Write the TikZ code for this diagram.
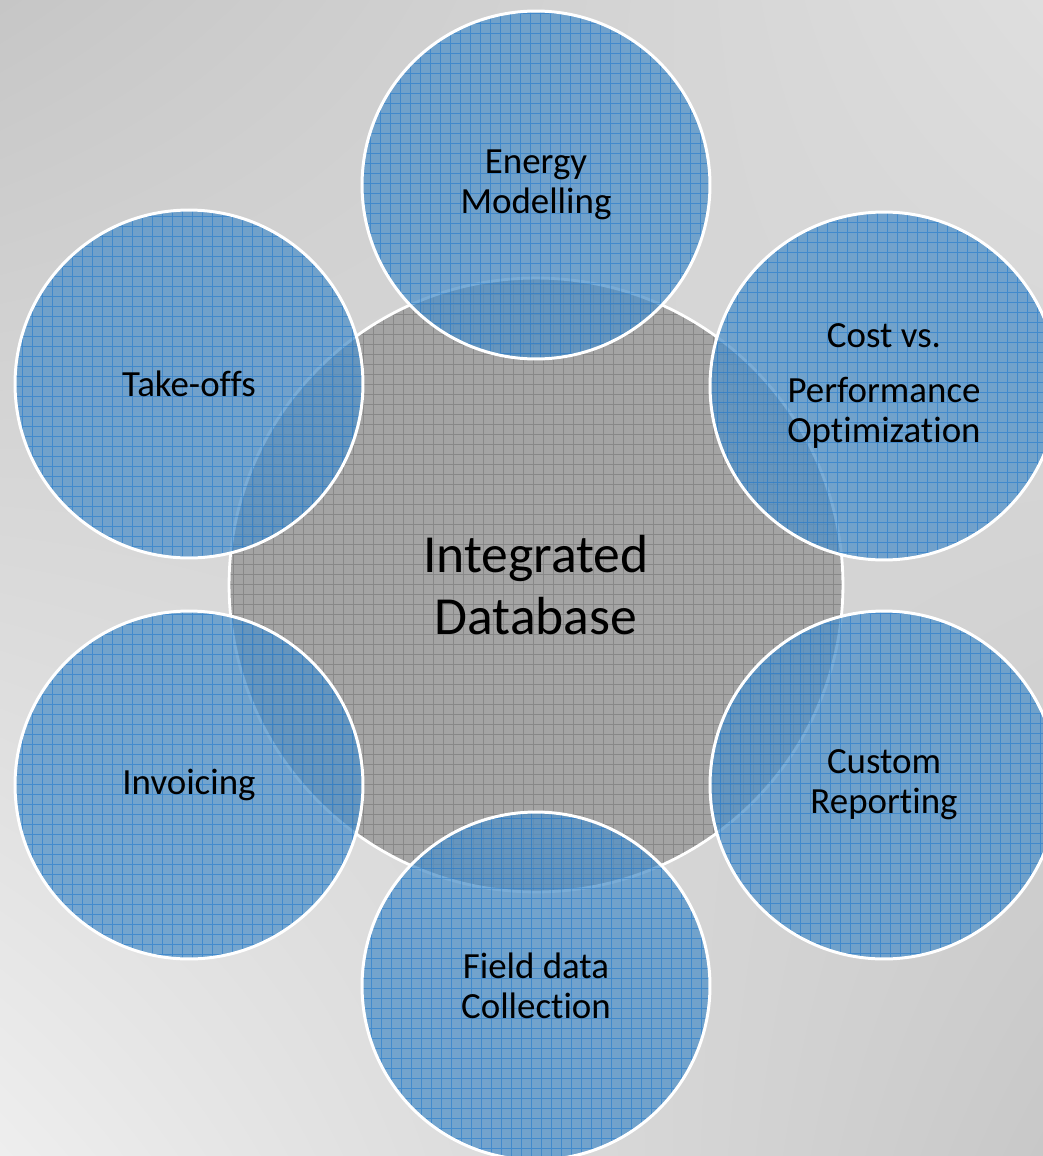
\documentclass[tikz,border=0pt]{standalone}
\usepackage{fontspec}
\setmainfont{Carlito}[Ligatures={NoCommon,NoContextual}]
\usetikzlibrary{shadings}
\definecolor{bgTL}{RGB}{198,198,198}
\definecolor{bgTR}{RGB}{222,222,222}
\definecolor{bgBL}{RGB}{238,238,238}
\definecolor{bgBR}{RGB}{200,200,200}
\definecolor{hubfill}{RGB}{164,164,164}
\definecolor{hubgrid}{RGB}{125,125,125}
\definecolor{satfill}{RGB}{80,145,200}
\definecolor{satgrid}{RGB}{20,115,205}
\tikzset{
  hub/.style={circle, minimum size=12.28cm, inner sep=0pt, outer sep=0pt,
    fill=hubfill, draw=white, line width=1.6pt,
    font=\fontsize{30.5}{35.3}\selectfont, align=center,
    path picture={\draw[hubgrid, line width=0.5pt, opacity=0.7]
      (path picture bounding box.south west) grid[step=0.2cm]
      (path picture bounding box.north east);}},
  sat/.style={circle, minimum size=6.96cm, inner sep=0pt, outer sep=0pt,
    fill=satfill, fill opacity=0.75, text opacity=1, draw=white, draw opacity=1,
    line width=1.7pt,
    font=\fontsize{21}{22.7}\selectfont, align=center,
    path picture={\draw[satgrid, line width=0.55pt, opacity=0.5]
      (path picture bounding box.south west) grid[step=0.2cm]
      (path picture bounding box.north east);}}
}
\begin{document}
\begin{tikzpicture}[x=0.02cm, y=-0.02cm]
\useasboundingbox (0,0) rectangle (1043,1156);
\shade[upper left=bgTL, upper right=bgTR, lower left=bgBL, lower right=bgBR]
  (0,0) rectangle (1043,1156);
\node[hub] (db) at (536,585) {Integrated\\Database};
\node[sat] (energy) at (536,185) {Energy\\Modelling};
\node[sat] (cost) at (884,386) {Cost vs.\\[9pt]Performance\\Optimization};
\node[sat] (report) at (884,785) {Custom\\Reporting};
\node[sat] (field) at (536,986) {Field data\\Collection};
\node[sat] (invoice) at (189,785) {Invoicing};
\node[sat] (takeoff) at (189,384) {Take-offs};
\end{tikzpicture}
\end{document}
